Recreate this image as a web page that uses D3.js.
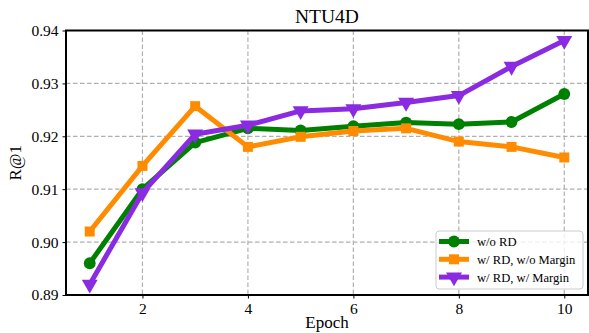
<!DOCTYPE html>
<meta charset="utf-8">
<head>
    <script src="https://d3js.org/d3.v7.min.js"></script>
</head>
<style>
    body { margin: 0; background: #fff; }
</style>
<body>
<script>
    'use strict';

    const epochs = [1, 2, 3, 4, 5, 6, 7, 8, 9, 10];
    const woRD = [0.896, 0.910, 0.9188, 0.9215, 0.9211, 0.9219, 0.9226, 0.9223, 0.9227, 0.928];
    const rdNoMargin = [0.902, 0.9144, 0.9257, 0.918, 0.9199, 0.921, 0.9215, 0.919, 0.918, 0.916];
    const rdMargin = [0.892, 0.9093, 0.9204, 0.9221, 0.9248, 0.9252, 0.9264, 0.9277, 0.9332, 0.9381];
    const xTicks = [2, 4, 6, 8, 10];
    const yTicks = [0.89, 0.90, 0.91, 0.92, 0.93, 0.94];

    const series = [
        { name: "w/o RD", values: woRD, color: "#008000", marker: "circle" },
        { name: "w/ RD, w/o Margin", values: rdNoMargin, color: "#ff8c00", marker: "square" },
        { name: "w/ RD, w/ Margin", values: rdMargin, color: "#8a2be2", marker: "tri" }
    ];

    const FONT = "Liberation Serif";
    const W = 589, H = 333;
    const margin = { top: 30.5, right: 1, bottom: 38, left: 66 };

    const svg = d3.select("body").append("svg")
        .attr("width", W).attr("height", H)
        .attr("font-family", FONT);

    const x = d3.scaleLinear().domain([0.55, 10.45]).range([margin.left, W - margin.right]);
    const y = d3.scaleLinear().domain([0.89, 0.94]).range([H - margin.bottom, margin.top]);

    // grid
    const grid = svg.append("g").attr("stroke", "#b0b0b0").attr("stroke-width", 1.2)
        .attr("stroke-dasharray", "4.5,2.5");
    grid.selectAll(".gx").data(xTicks).enter().append("line")
        .attr("x1", d => x(d)).attr("x2", d => x(d))
        .attr("y1", margin.top).attr("y2", H - margin.bottom);
    grid.selectAll(".gy").data(yTicks).enter().append("line")
        .attr("x1", margin.left).attr("x2", W - margin.right)
        .attr("y1", d => y(d)).attr("y2", d => y(d));

    // axes
    const xAxis = svg.append("g")
        .attr("transform", `translate(0,${H - margin.bottom})`)
        .call(d3.axisBottom(x).tickValues(xTicks).tickSize(3.5).tickPadding(4).tickFormat(d3.format("d")));
    const yAxis = svg.append("g")
        .attr("transform", `translate(${margin.left},0)`)
        .call(d3.axisLeft(y).tickValues(yTicks).tickSize(3.5).tickPadding(4).tickFormat(d3.format(".2f")));
    [xAxis, yAxis].forEach(a => {
        a.attr("font-family", FONT).attr("font-size", 15.5);
        a.select(".domain").remove();
        a.selectAll("text").attr("font-family", FONT).attr("fill", "#000");
        a.selectAll("line").attr("stroke", "#000").attr("stroke-width", 1);
    });

    const line = d3.line().x((d, i) => x(epochs[i])).y(d => y(d));

    const sym = {
        circle: d3.symbol().type(d3.symbolCircle).size(110),
        square: d3.symbol().type(d3.symbolSquare).size(100),
        tri: d3.symbol().type(d3.symbolTriangle).size(110)
    };

    function drawMarker(g, s, cx, cy) {
        g.append("path")
            .attr("d", sym[s.marker]())
            .attr("fill", s.color)
            .attr("transform", `translate(${cx},${cy})` + (s.marker === "tri" ? " rotate(180)" : ""));
    }

    series.forEach(s => {
        const g = svg.append("g");
        g.append("path").datum(s.values)
            .attr("d", line)
            .attr("fill", "none")
            .attr("stroke", s.color)
            .attr("stroke-width", 5)
            .attr("stroke-linejoin", "round");
        s.values.forEach((v, i) => drawMarker(g, s, x(epochs[i]), y(v)));
    });

    // frame
    svg.append("rect")
        .attr("x", margin.left).attr("y", margin.top)
        .attr("width", W - margin.right - margin.left)
        .attr("height", H - margin.bottom - margin.top)
        .attr("fill", "none").attr("stroke", "#000").attr("stroke-width", 2);

    // title and labels
    svg.append("text").attr("x", (margin.left + W - margin.right) / 2).attr("y", 22.5)
        .attr("text-anchor", "middle").attr("font-size", 19.5).attr("font-family", FONT).text("NTU4D");
    svg.append("text").attr("x", (margin.left + W - margin.right) / 2).attr("y", 327.5)
        .attr("text-anchor", "middle").attr("font-size", 17).attr("font-family", FONT).text("Epoch");
    svg.append("text").attr("transform", `translate(21,${(margin.top + H - margin.bottom) / 2}) rotate(-90)`)
        .attr("text-anchor", "middle").attr("font-size", 17).attr("font-family", FONT).text("R@1");

    // legend
    const lg = svg.append("g").attr("transform", "translate(436,231)");
    lg.append("rect").attr("width", 147).attr("height", 58).attr("rx", 3)
        .attr("fill", "#fff").attr("fill-opacity", 0.8)
        .attr("stroke", "#cccccc").attr("stroke-width", 1);
    series.forEach((s, i) => {
        const yy = 10.5 + i * 17.8;
        lg.append("line").attr("x1", 3).attr("x2", 33).attr("y1", yy).attr("y2", yy)
            .attr("stroke", s.color).attr("stroke-width", 5);
        drawMarker(lg, s, 18, yy);
        lg.append("text").attr("x", 41).attr("y", yy + 4.5)
            .attr("font-size", 12.6).attr("font-family", FONT).text(s.name);
    });
</script>
</body>
